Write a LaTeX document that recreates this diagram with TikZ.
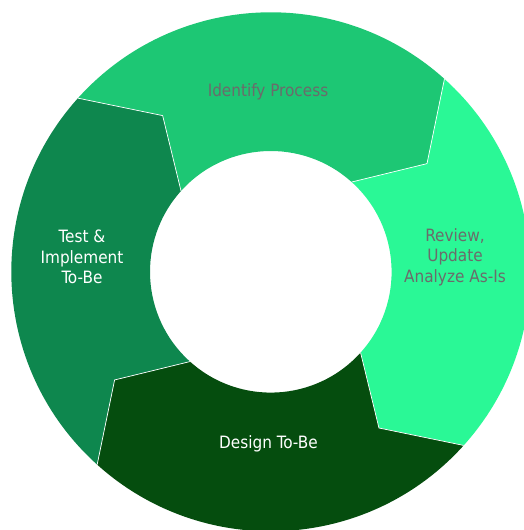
\documentclass[tikz,border=0pt]{standalone}
\usepackage{fontspec}
\setmainfont{DejaVu Sans Condensed}
\definecolor{cIdent}{HTML}{1DC774}
\definecolor{cReview}{HTML}{2AF896}
\definecolor{cTest}{HTML}{0E874E}
\definecolor{cDesign}{HTML}{054D0E}
\definecolor{labgray}{HTML}{6B6B6B}
\tikzset{
  seg/.style={draw=white, line width=0.7pt, line join=miter},
  lab/.style={font=\fontsize{17}{20.5}\selectfont, align=center, inner sep=0pt},
}
\newcommand{\ringseg}[3]{% start angle, end angle, colour
  \fill[#3] (#1:259.5) arc[start angle=#1, end angle=#2, radius=259.5]
    -- ({#2-13.3}:190) -- (#2:120.8) arc[start angle=#2, end angle=#1, radius=120.8]
    -- ({#1-13.3}:190) -- cycle;
}
\begin{document}
\begin{tikzpicture}[x=1pt,y=1pt]
\useasboundingbox (0,0) rectangle (524,530);
\clip (0,0) rectangle (524,530);
\begin{scope}[shift={(270.8,258.2)}]
  \ringseg{138}{48}{cIdent}
  \ringseg{48}{-42}{cReview}
  \ringseg{-42}{-132}{cDesign}
  \ringseg{-132}{-222}{cTest}
  \draw[seg] (138:259.5) -- (124.7:190) -- (138:120.8);
  \draw[seg] (48:259.5) -- (34.7:190) -- (48:120.8);
  \draw[seg] (-42:259.5) -- (-55.3:190) -- (-42:120.8);
  \draw[seg] (-132:259.5) -- (-145.3:190) -- (-132:120.8);
\end{scope}
\node[lab, text=labgray] (ident) at (268,438) {Identify Process};
\node[lab, text=labgray] (review) at (455,273) {Review,\\Update\\Analyze As-Is};
\node[lab, text=white] (test) at (82,273) {Test \&\\Implement\\To-Be};
\node[lab, text=white] (design) at (268.5,86) {Design To-Be};
\end{tikzpicture}
\end{document}
